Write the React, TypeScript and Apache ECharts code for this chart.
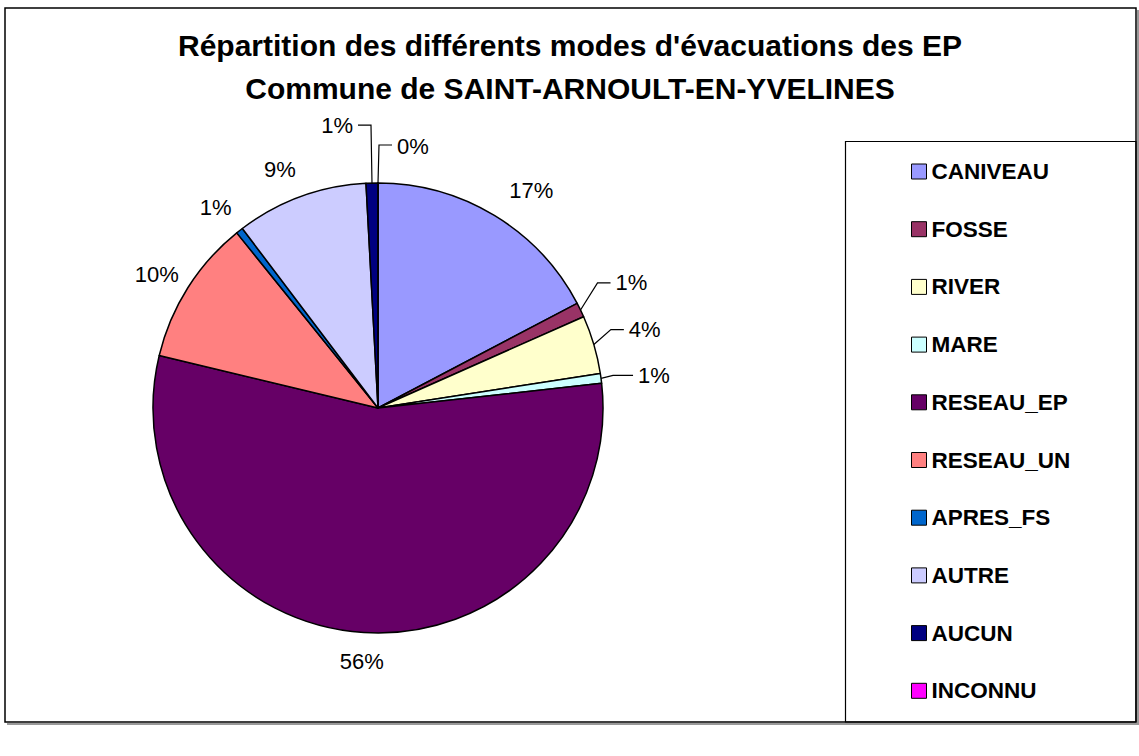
import React, { useEffect, useRef } from "react";
import * as echarts from "echarts";

const TITLE_LINES = [
  "Répartition des différents modes d'évacuations des EP",
  "Commune de SAINT-ARNOULT-EN-YVELINES",
];
const CATEGORIES = [
  "CANIVEAU",
  "FOSSE",
  "RIVER",
  "MARE",
  "RESEAU_EP",
  "RESEAU_UN",
  "APRES_FS",
  "AUTRE",
  "AUCUN",
  "INCONNU",
];
// share of each mode, in percent
const SHARES = [17.3, 1.05, 4.2, 0.7, 55.5, 10.45, 0.5, 9.45, 0.85, 0];
const COLORS = [
  "#9999FF",
  "#993366",
  "#FFFFCC",
  "#CCFFFF",
  "#660066",
  "#FF8080",
  "#0066CC",
  "#CCCCFF",
  "#000080",
  "#FF00FF",
];

// label placement relative to the slice's edge point (styling only)
type Place =
  | { line: true; mx: number; my: number; hx: number; ty?: number }
  | { line: false; dx: number; dy: number };
const LABEL_PLACEMENT: Place[] = [
  { line: false, dx: 37, dy: -25 },
  { line: true, mx: 17, my: -27, hx: 13 },
  { line: true, mx: 17, my: -15, hx: 13 },
  { line: true, mx: 12, my: -3, hx: 20 },
  { line: false, dx: -2, dy: 29 },
  { line: false, dx: -31, dy: -13 },
  { line: false, dx: -24, dy: -23 },
  { line: false, dx: -21, dy: -27 },
  { line: true, mx: -1, my: -58, hx: -13 },
  { line: true, mx: 1, my: -38, hx: 13, ty: 1 },
];

const FONT = "Arial, 'Liberation Sans', Helvetica, sans-serif";

export default function App() {
  const ref = useRef<HTMLDivElement>(null);
  useEffect(() => {
    if (!ref.current) return;
    const chart = echarts.init(ref.current, null, { renderer: "svg" });
    chart.setOption({
      animation: false,
      backgroundColor: "#ffffff",
      title: {
        text: TITLE_LINES.join("\n"),
        left: 570,
        top: 24,
        textAlign: "center",
        padding: 0,
        textStyle: {
          fontSize: 30,
          fontWeight: "bold",
          color: "#000",
          fontFamily: FONT,
          lineHeight: 43,
        },
      },
      legend: {
        orient: "vertical",
        left: 911,
        top: 160,
        padding: 0,
        itemWidth: 15,
        itemHeight: 15,
        itemGap: 34.7,
        icon: "rect",
        selectedMode: false,
        data: CATEGORIES,
        itemStyle: { borderColor: "#000", borderWidth: 1 },
        textStyle: {
          fontSize: 22.5,
          fontWeight: "bold",
          color: "#000",
          fontFamily: FONT,
        },
      },
      graphic: [
        {
          type: "polyline",
          shape: {
            points: [
              [1138, 10],
              [1138, 724],
              [7, 724],
            ],
          },
          style: { fill: "none", stroke: "#999", lineWidth: 2 },
          silent: true,
        },
        {
          type: "rect",
          shape: { x: 5, y: 8, width: 1131, height: 714 },
          style: { fill: "none", stroke: "#000", lineWidth: 1.5 },
          silent: true,
        },
        {
          type: "rect",
          shape: { x: 845.5, y: 141.5, width: 290.5, height: 580.5 },
          style: { fill: "none", stroke: "#000", lineWidth: 1.2 },
          silent: true,
        },
      ],
      series: [
        {
          type: "pie",
          center: [378, 408],
          radius: 225,
          startAngle: 90,
          clockwise: true,
          avoidLabelOverlap: false,
          emphasis: { disabled: true },
          data: CATEGORIES.map((name, i) => ({
            name,
            value: SHARES[i],
            itemStyle: { color: COLORS[i] },
          })),
          itemStyle: { borderColor: "#000", borderWidth: 1.5 },
          label: {
            show: true,
            position: "outside",
            formatter: (p: any) => Math.round(p.percent) + "%",
            fontSize: 22,
            color: "#000",
            fontFamily: FONT,
          },
          labelLine: {
            show: true,
            length: 10,
            length2: 10,
            smooth: false,
            lineStyle: { color: "#000", width: 1.2 },
          },
          labelLayout: (params: any) => {
            const pl = LABEL_PLACEMENT[params.dataIndex];
            const pts = params.labelLinePoints;
            if (!pl || !pts) return {};
            const x1 = pts[0][0];
            const y1 = pts[0][1];
            if (pl.line) {
              const p2 = [x1 + pl.mx, y1 + pl.my];
              const p3 = [p2[0] + pl.hx, p2[1]];
              const toRight = pl.hx >= 0;
              return {
                labelLinePoints: [[x1, y1], p2, p3],
                x: p3[0] + (toRight ? 5 : -5),
                y: p3[1] + (pl.ty || 0),
                align: toRight ? "left" : "right",
                verticalAlign: "middle",
              };
            }
            return {
              labelLinePoints: [
                [x1, y1],
                [x1, y1],
                [x1, y1],
              ],
              x: x1 + pl.dx,
              y: y1 + pl.dy,
              align: "center",
              verticalAlign: "middle",
            };
          },
        },
      ],
    });
    return () => chart.dispose();
  }, []);
  return (
    <div
      ref={ref}
      style={{ position: "absolute", left: 0, top: 0, width: 1139, height: 756 }}
    />
  );
}
